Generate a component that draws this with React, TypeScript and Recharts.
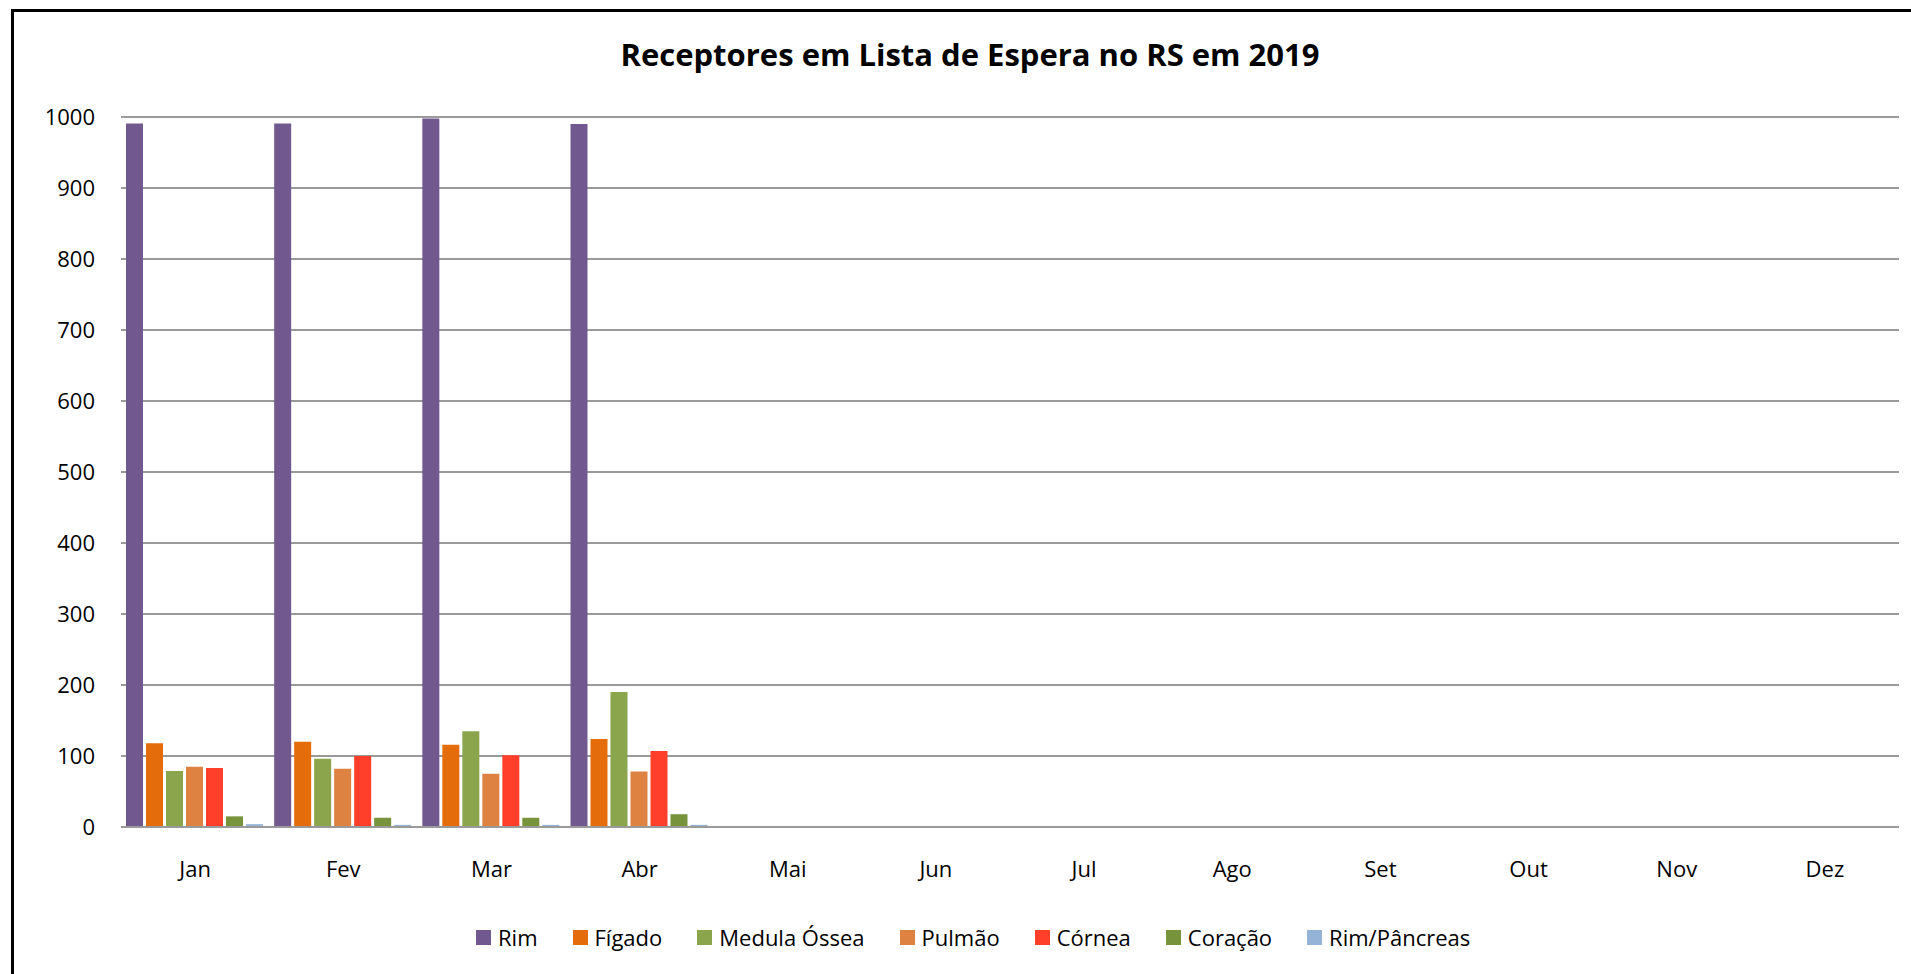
import React from 'react';
import { BarChart, Bar, XAxis, YAxis, CartesianGrid } from 'recharts';

const months = ['Jan', 'Fev', 'Mar', 'Abr', 'Mai', 'Jun', 'Jul', 'Ago', 'Set', 'Out', 'Nov', 'Dez'];
const yTicks = [0, 100, 200, 300, 400, 500, 600, 700, 800, 900, 1000];

// só os 4 primeiros meses têm dados
const rim = [991, 991, 998, 990];
const figado = [118, 120, 116, 124];
const medula = [79, 96, 135, 190];
const pulmao = [85, 82, 75, 78];
const cornea = [83, 100, 101, 107];
const coracao = [15, 13, 13, 18];
const rimPancreas = [4, 3, 3, 3];

const series = [
  { key: 'rim', name: 'Rim', color: '#71588F', values: rim },
  { key: 'figado', name: 'Fígado', color: '#E46C0A', values: figado },
  { key: 'medula', name: 'Medula Óssea', color: '#8BA54D', values: medula },
  { key: 'pulmao', name: 'Pulmão', color: '#DD8240', values: pulmao },
  { key: 'cornea', name: 'Córnea', color: '#FF3F2A', values: cornea },
  { key: 'coracao', name: 'Coração', color: '#77933C', values: coracao },
  { key: 'rimPancreas', name: 'Rim/Pâncreas', color: '#95B3D7', values: rimPancreas },
];

const data = months.map((m, i) => {
  const row: Record<string, string | number | null> = { month: m };
  series.forEach((s) => {
    row[s.key] = i < s.values.length ? s.values[i] : null;
  });
  return row;
});

const FONT = '"Open Sans", sans-serif';

export default function App() {
  return (
    <div style={{ position: 'absolute', left: 0, top: 0, width: 1911, height: 974, overflow: 'hidden', background: '#fff' }}>
      <div style={{ position: 'absolute', left: 11, top: 9, width: 1960, height: 1060, border: '3px solid #000', boxSizing: 'border-box' }} />
      <div
        style={{
          position: 'absolute', left: 0, top: 39, width: 1940, textAlign: 'center',
          fontFamily: FONT, fontWeight: 700, fontSize: 31, lineHeight: '31px', color: '#000',
        }}
      >
        Receptores em Lista de Espera no RS em 2019
      </div>
      <div style={{ position: 'absolute', left: 0, top: 0 }}>
        <BarChart
          width={1911}
          height={974}
          data={data}
          margin={{ top: 117, right: 12, left: 21, bottom: 87 }}
          barCategoryGap={5}
          barGap={3}
        >
          <CartesianGrid vertical={false} stroke="#9A9A9A" strokeWidth={2} />
          <XAxis
            dataKey="month"
            axisLine={{ stroke: '#9A9A9A', strokeWidth: 2 }}
            tickLine={false}
            tickSize={0}
            tickMargin={34}
            height={60}
            interval={0}
            tick={{ fill: '#000', fontSize: 22, fontFamily: FONT }}
          />
          <YAxis
            domain={[0, 1000]}
            ticks={yTicks}
            width={100}
            axisLine={false}
            tickLine={false}
            tickSize={0}
            tickMargin={26}
            interval={0}
            tick={{ fill: '#000', fontSize: 22, fontFamily: FONT }}
          />
          {series.map((s) => (
            <Bar key={s.key} dataKey={s.key} name={s.name} fill={s.color} isAnimationActive={false} />
          ))}
        </BarChart>
      </div>
      <div
        style={{
          position: 'absolute', left: 476, top: 922, height: 30, display: 'flex', alignItems: 'center',
          fontFamily: FONT, fontSize: 22, color: '#000', whiteSpace: 'nowrap',
        }}
      >
        {series.map((s) => (
          <div key={s.key} style={{ display: 'flex', alignItems: 'center', marginRight: 35 }}>
            <span style={{ width: 15, height: 15, background: s.color, display: 'inline-block', marginRight: 7 }} />
            <span>{s.name}</span>
          </div>
        ))}
      </div>
    </div>
  );
}
